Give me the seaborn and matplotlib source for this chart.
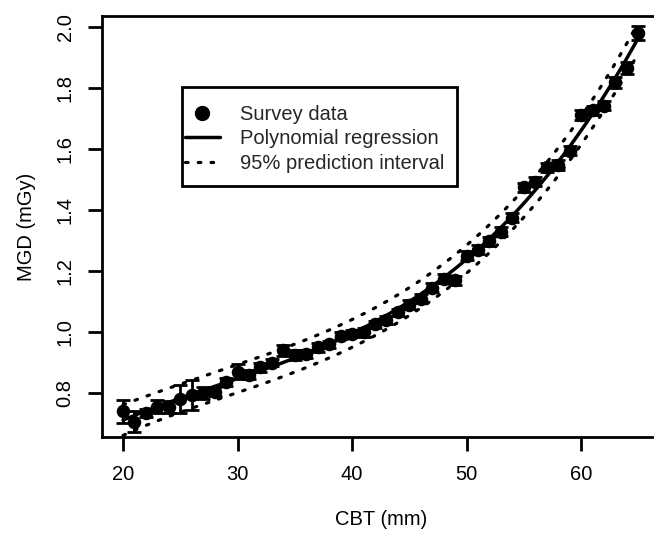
import numpy as np
import pandas as pd
import matplotlib
matplotlib.use("Agg")
import matplotlib.pyplot as plt
import seaborn as sns
from matplotlib.lines import Line2D
from matplotlib.patches import Rectangle

sns.set_theme(style="ticks")
plt.rcParams["font.family"] = ["Liberation Sans", "DejaVu Sans"]

# ── data ─────────────────────────────────────────────────────────────────────
cbt = list(range(20, 66))
mgd = [0.740, 0.706, 0.735, 0.756, 0.755, 0.780, 0.793, 0.800, 0.804, 0.836,
       0.870, 0.860, 0.885, 0.900, 0.940, 0.925, 0.928, 0.950, 0.960, 0.988,
       0.995, 1.000, 1.026, 1.040, 1.065, 1.090, 1.110, 1.145, 1.175, 1.170,
       1.250, 1.270, 1.298, 1.330, 1.375, 1.475, 1.493, 1.540, 1.548, 1.595,
       1.712, 1.728, 1.742, 1.820, 1.865, 1.981]
err = [0.038, 0.035, 0.013, 0.020, 0.020, 0.045, 0.050, 0.020, 0.015, 0.012,
       0.025, 0.015, 0.015, 0.012, 0.018, 0.015, 0.012, 0.015, 0.012, 0.012,
       0.012, 0.015, 0.012, 0.012, 0.012, 0.015, 0.015, 0.015, 0.015, 0.015,
       0.015, 0.015, 0.015, 0.015, 0.015, 0.015, 0.015, 0.015, 0.015, 0.015,
       0.015, 0.015, 0.015, 0.018, 0.020, 0.022]
xticks = [20, 30, 40, 50, 60]
yticks = [0.8, 1.0, 1.2, 1.4, 1.6, 1.8, 2.0]
pi_sigma = 0.022   # residual SD implied by the band width in the reference

df = pd.DataFrame({"cbt": cbt, "mgd": mgd, "err": err})

# ── cubic fit + 95% prediction interval ──────────────────────────────────────
order = 3
X = np.vander(df["cbt"].to_numpy(float), order + 1)
coef, *_ = np.linalg.lstsq(X, df["mgd"].to_numpy(), rcond=None)
XtX_inv = np.linalg.inv(X.T @ X)
xs = np.linspace(df["cbt"].min(), df["cbt"].max(), 200)
Xs = np.vander(xs, order + 1)
fit = Xs @ coef
lev = np.einsum("ij,jk,ik->i", Xs, XtX_inv, Xs)
half = 2.018 * pi_sigma * np.sqrt(1 + lev)
fit_df = pd.DataFrame({"cbt": xs, "fit": fit, "lo": fit - half, "hi": fit + half})

# ── plot ─────────────────────────────────────────────────────────────────────
FS = 14.5
fig = plt.figure(figsize=(6.54, 5.34), dpi=100)
ax = fig.add_axes([0.1566, 0.1816, 0.851, 0.788])

ax.errorbar(df["cbt"], df["mgd"], yerr=df["err"], fmt="none", ecolor="black",
            elinewidth=2, capsize=5, capthick=2, zorder=3)
sns.scatterplot(data=df, x="cbt", y="mgd", ax=ax, color="black", s=95,
                edgecolor="black", linewidth=0, zorder=4, legend=False)
sns.lineplot(data=fit_df, x="cbt", y="fit", ax=ax, color="black", lw=2.5, zorder=2)
for col in ["lo", "hi"]:
    sns.lineplot(data=fit_df, x="cbt", y=col, ax=ax, color="black", lw=2.3, zorder=2)
for ln in ax.lines[-2:]:
    ln.set_dashes((0.8, 3.2))
    ln.set_dash_capstyle("round")

ax.set_xlim(18.2, 66.8)
ax.set_ylim(0.656, 2.036)
ax.set_xticks(xticks)
ax.set_yticks(yticks)
ax.set_yticklabels([f"{v:.1f}" for v in yticks], rotation=90, va="center")
ax.tick_params(axis="both", which="major", direction="out", length=10, width=2,
               color="black", labelsize=FS, labelcolor="black")
ax.tick_params(axis="x", pad=10)
ax.tick_params(axis="y", pad=10)
for sp in ax.spines.values():
    sp.set_visible(True)
    sp.set_color("black")
    sp.set_linewidth(2)
ax.set_xlabel("CBT (mm)", fontsize=FS, labelpad=19, color="black")
ax.set_ylabel("MGD (mGy)", fontsize=FS, labelpad=14, color="black")

# legend: box drawn separately so the padding matches R's legend()
ax.add_patch(Rectangle((0.143, 0.596), 0.494, 0.235, transform=ax.transAxes,
                       fill=True, facecolor="white", edgecolor="black",
                       lw=2, zorder=5))
handles = [
    Line2D([], [], marker="o", ls="none", color="black", markersize=10),
    Line2D([], [], color="black", lw=2.5),
    Line2D([], [], color="black", lw=2.3, dashes=(0.8, 3.2), dash_capstyle="round"),
]
labels = ["Survey data", "Polynomial regression", "95% prediction interval"]
leg = ax.legend(handles, labels, loc="upper left", bbox_to_anchor=(0.148, 0.790),
                fontsize=FS, frameon=False, handlelength=1.75,
                handletextpad=1.0, borderpad=0, labelspacing=0.28,
                borderaxespad=0)
leg.set_zorder(6)

fig.savefig("out.png", dpi=100, facecolor="white")
